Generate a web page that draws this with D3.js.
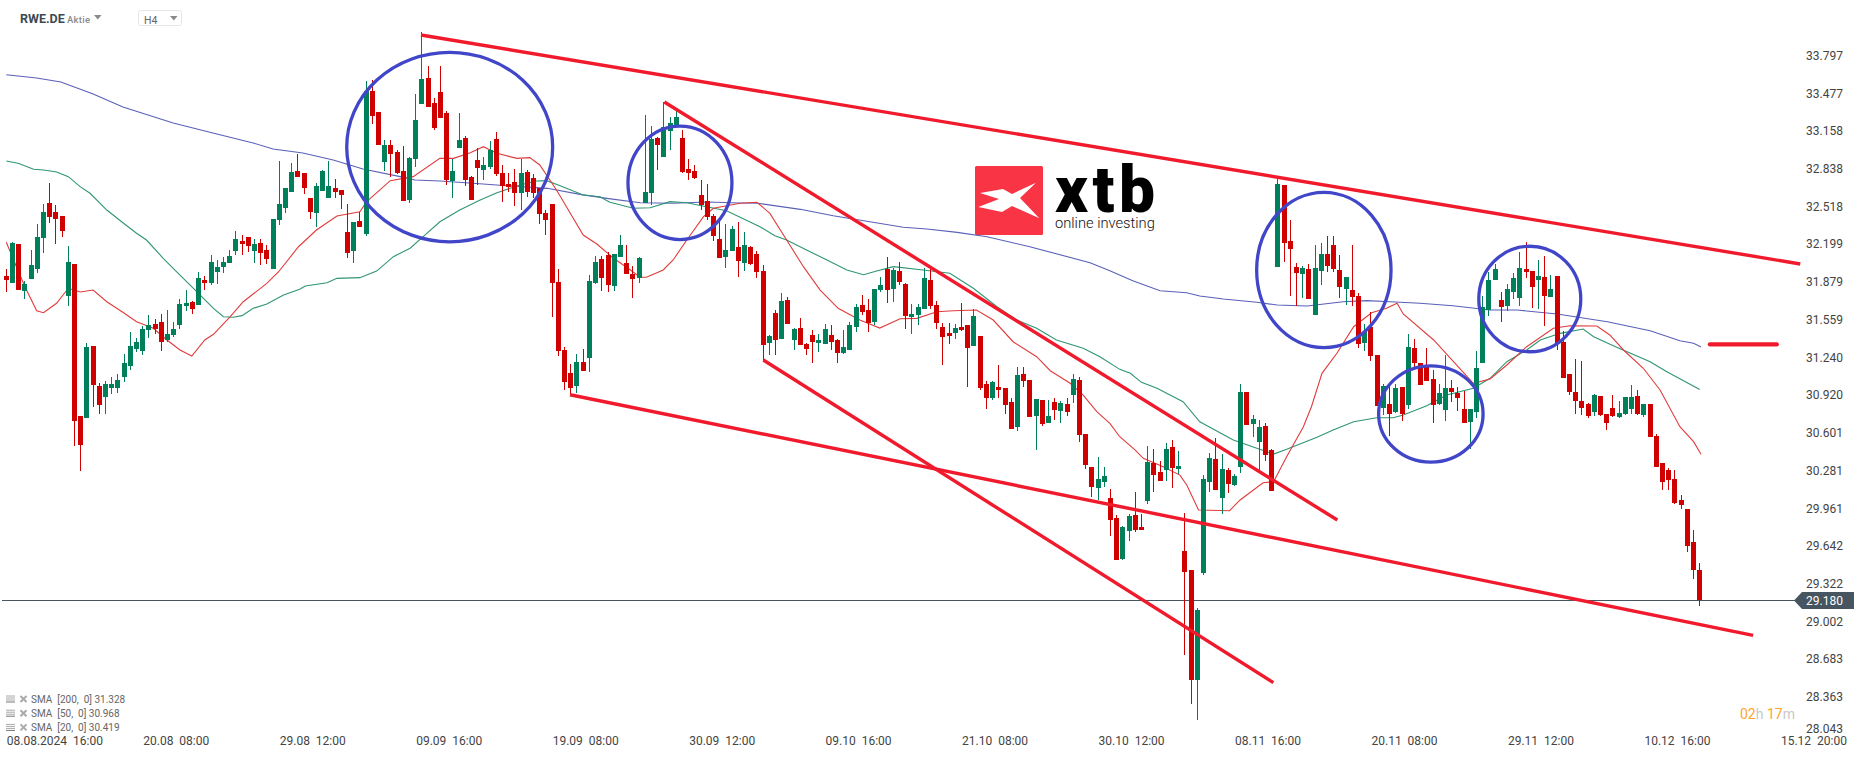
<!DOCTYPE html>
<html>
<head>
<meta charset="utf-8">
<title>RWE.DE H4</title>
<script src="https://cdn.jsdelivr.net/npm/d3@7"></script>
<style>
  html, body { margin: 0; padding: 0; background: #fff; overflow: hidden; }
  svg { display: block; font-family: Roboto, sans-serif; }
</style>
</head>
<body>
<svg id="chart" width="1866" height="759"></svg>
<script>
// candles, one row per 10 candles
const opens = [
  31.929,31.872,32.200,31.805,31.906,31.991,32.254,32.548,32.471,32.437,
  31.760,32.031,30.743,30.726,31.336,30.997,30.904,30.980,30.980,31.073,
  31.166,31.310,31.293,31.471,31.522,31.539,31.387,31.429,31.514,31.675,
  31.709,31.683,31.895,31.870,31.963,32.005,32.039,32.141,32.226,32.260,
  32.141,32.209,32.149,31.988,32.404,32.505,32.641,32.819,32.802,32.590,
  32.463,32.649,32.590,32.675,32.658,32.302,32.141,32.395,32.285,33.497,
  33.319,32.895,33.039,32.980,32.819,32.573,32.921,33.387,33.607,33.395,
  33.489,33.310,32.734,33.014,33.098,32.768,32.912,32.827,32.853,33.090,
  32.802,32.709,32.726,32.632,32.810,32.760,32.675,32.463,32.539,31.878,
  31.302,31.107,30.997,31.200,31.234,31.870,32.073,32.107,31.844,32.090,
  32.039,31.946,31.912,32.548,32.632,33.098,32.938,33.158,33.192,33.098,
  32.836,32.819,32.615,32.565,32.438,32.242,32.090,32.141,32.175,32.039,
  32.175,32.115,31.971,31.361,31.615,31.395,31.726,31.387,31.488,31.353,
  31.429,31.361,31.353,31.429,31.387,31.276,31.302,31.497,31.683,31.641,
  31.539,31.810,31.988,31.819,31.971,31.861,31.581,31.598,31.649,31.895,
  31.683,31.497,31.446,31.446,31.497,31.514,31.336,31.420,31.014,30.895,
  30.988,30.980,30.861,30.649,31.098,31.048,30.742,30.878,30.683,30.861,
  30.785,30.844,30.920,31.048,30.590,30.310,30.132,30.183,30.047,29.878,
  29.531,29.768,29.903,29.802,30.022,30.344,30.268,30.285,30.480,30.293,
  29.598,29.437,28.505,29.412,30.183,30.378,30.047,30.285,30.158,30.310,
  30.946,30.675,30.522,30.658,30.454,32.005,32.700,32.226,32.005,31.946,
  31.988,31.598,31.971,32.115,32.192,31.980,31.819,31.810,31.759,31.361,
  31.497,31.259,30.810,30.844,30.776,30.988,30.836,31.319,31.192,31.158,
  31.056,30.844,30.793,30.980,30.937,30.802,30.692,30.776,31.192,31.641,
  31.895,31.726,31.675,31.793,31.742,31.988,31.971,31.895,31.920,31.751,
  31.929,31.370,31.098,30.946,30.870,30.844,30.776,30.912,30.759,30.810,
  30.734,30.759,30.802,30.912,30.751,30.844,30.573,30.344,30.285,30.208,
  30.030,29.954,29.674,29.437
];
const highs = [
  31.988,32.217,32.200,31.887,32.149,32.370,32.539,32.717,32.531,32.437,
  32.183,32.031,30.743,31.361,31.336,31.019,31.039,31.073,31.099,31.268,
  31.454,31.404,31.505,31.599,31.565,31.607,31.641,31.539,31.734,31.810,
  31.717,31.963,31.929,32.107,32.065,32.090,32.149,32.310,32.276,32.260,
  32.243,32.243,32.192,32.412,32.904,32.675,32.887,32.963,32.802,32.590,
  32.717,32.827,32.904,32.751,32.658,32.539,32.387,32.471,33.582,33.590,
  33.319,33.082,33.082,32.997,33.031,32.938,33.472,33.997,33.709,33.438,
  33.709,33.327,32.921,33.310,33.115,32.776,33.014,32.938,33.073,33.149,
  32.870,32.802,32.836,32.921,32.827,32.794,32.675,32.489,32.539,31.989,
  31.327,31.183,31.268,31.310,31.938,32.098,32.098,32.132,32.115,32.277,
  32.192,32.014,32.090,33.293,33.200,33.107,33.404,33.277,33.327,33.166,
  32.921,32.870,32.743,32.709,32.455,32.412,32.370,32.353,32.387,32.300,
  32.183,32.141,32.022,31.429,31.641,31.785,31.751,31.488,31.573,31.361,
  31.471,31.437,31.522,31.514,31.395,31.471,31.539,31.692,31.768,31.734,
  31.819,31.920,32.090,31.997,32.048,31.870,31.692,31.692,31.997,31.997,
  31.717,31.531,31.531,31.522,31.700,31.514,31.649,31.420,31.039,31.039,
  31.175,30.980,30.895,31.158,31.158,31.048,30.887,30.878,30.878,30.895,
  30.870,30.895,31.098,31.073,30.590,30.310,30.395,30.310,30.124,29.903,
  29.810,29.912,30.098,29.912,30.488,30.463,30.361,30.514,30.539,30.446,
  29.920,29.437,29.115,30.242,30.429,30.556,30.420,30.302,30.251,31.014,
  30.946,30.751,30.709,30.683,30.463,32.751,32.700,32.404,32.039,32.014,
  32.031,32.192,32.209,32.268,32.268,32.107,31.920,32.192,31.785,31.522,
  31.624,31.259,31.014,31.014,31.014,30.988,31.437,31.395,31.192,31.319,
  31.132,31.014,31.259,31.048,30.988,30.954,30.802,31.293,31.759,31.963,
  32.031,31.793,31.861,31.954,32.132,32.217,31.971,32.065,32.098,31.937,
  31.929,31.463,31.098,31.226,31.209,30.853,30.929,30.912,30.759,30.920,
  30.870,30.904,31.005,30.963,30.844,30.844,30.590,30.344,30.301,30.285,
  30.073,29.954,29.776,29.496
];
const lows = [
  31.796,31.872,31.813,31.737,31.906,31.957,32.127,32.378,32.200,32.260,
  31.675,30.488,30.276,30.726,30.819,30.760,30.760,30.929,30.937,31.031,
  31.132,31.285,31.260,31.404,31.437,31.293,31.370,31.412,31.480,31.632,
  31.607,31.683,31.810,31.853,31.861,31.954,32.039,32.107,32.107,32.132,
  32.039,32.022,32.031,31.988,32.361,32.463,32.641,32.768,32.624,32.412,
  32.344,32.649,32.590,32.590,32.497,32.082,32.039,32.344,32.268,33.217,
  33.039,32.819,32.768,32.794,32.565,32.548,32.853,33.387,33.362,33.166,
  33.268,32.700,32.590,33.014,32.692,32.573,32.700,32.743,32.836,32.776,
  32.556,32.641,32.522,32.489,32.598,32.590,32.370,32.277,31.582,31.251,
  30.963,30.929,30.938,31.124,31.115,31.861,31.802,31.794,31.802,32.090,
  31.946,31.743,31.870,32.548,32.531,32.827,32.938,32.997,33.192,32.802,
  32.743,32.751,32.489,32.404,32.225,32.082,31.997,32.141,31.920,31.971,
  32.022,31.912,31.217,31.259,31.259,31.395,31.522,31.302,31.344,31.259,
  31.192,31.285,31.353,31.302,31.192,31.268,31.302,31.454,31.598,31.454,
  31.514,31.793,31.700,31.709,31.853,31.480,31.437,31.514,31.649,31.649,
  31.480,31.175,31.353,31.395,31.463,30.988,31.336,30.963,30.802,30.878,
  30.895,30.759,30.632,30.615,30.988,30.734,30.454,30.658,30.683,30.709,
  30.683,30.742,30.853,30.522,30.293,30.056,30.031,30.141,29.725,29.522,
  29.522,29.683,29.759,29.776,29.997,30.098,30.192,30.192,30.132,30.251,
  28.717,28.302,28.166,29.395,30.098,30.115,29.912,30.090,30.149,30.259,
  30.666,30.564,30.285,30.361,30.107,32.005,32.048,31.759,31.675,31.742,
  31.734,31.598,31.853,31.963,31.963,31.742,31.683,31.675,31.319,31.293,
  31.209,30.827,30.751,30.573,30.768,30.700,30.802,31.149,31.005,31.039,
  30.683,30.836,30.700,30.861,30.785,30.683,30.463,30.726,31.192,31.590,
  31.895,31.539,31.632,31.734,31.675,31.912,31.658,31.649,31.505,31.751,
  31.302,31.065,30.920,30.759,30.751,30.726,30.743,30.743,30.624,30.734,
  30.726,30.751,30.759,30.751,30.734,30.564,30.310,30.115,30.115,29.996,
  29.954,29.590,29.361,29.132
];
const closes = [
  31.895,32.209,31.813,31.861,32.022,32.260,32.471,32.429,32.412,32.310,
  32.048,30.700,30.497,31.327,31.005,30.836,31.014,31.014,31.048,31.192,
  31.336,31.370,31.480,31.514,31.480,31.370,31.437,31.480,31.692,31.700,
  31.649,31.912,31.870,32.048,32.005,32.048,32.099,32.243,32.200,32.183,
  32.200,32.124,32.073,32.412,32.539,32.675,32.810,32.768,32.675,32.471,
  32.692,32.819,32.692,32.641,32.615,32.124,32.387,32.344,33.497,33.285,
  33.039,33.039,32.963,32.802,32.565,32.929,33.251,33.599,33.362,33.183,
  33.268,32.743,32.819,33.082,32.743,32.573,32.844,32.870,32.997,32.794,
  32.692,32.683,32.632,32.802,32.641,32.632,32.455,32.404,31.870,31.294,
  31.031,30.980,31.200,31.124,31.887,32.048,31.912,31.853,32.115,32.192,
  31.946,31.904,32.082,32.641,33.090,33.039,33.192,33.226,33.277,32.810,
  32.802,32.760,32.531,32.429,32.268,32.082,32.149,32.327,32.056,32.192,
  32.031,31.963,31.344,31.420,31.387,31.717,31.522,31.480,31.344,31.310,
  31.370,31.387,31.480,31.370,31.276,31.327,31.514,31.666,31.624,31.531,
  31.819,31.853,31.810,31.980,31.878,31.590,31.607,31.666,31.912,31.675,
  31.531,31.412,31.420,31.488,31.471,31.319,31.590,30.980,30.895,31.031,
  30.963,30.836,30.632,31.090,31.039,30.734,30.887,30.675,30.742,30.793,
  30.853,30.776,31.056,30.581,30.327,30.141,30.209,30.234,29.861,29.522,
  29.802,29.895,29.776,29.776,30.353,30.242,30.192,30.463,30.302,30.319,
  29.420,28.505,29.098,30.209,30.386,30.115,30.293,30.166,30.234,30.946,
  30.666,30.717,30.649,30.412,30.107,32.709,32.209,32.158,31.954,31.997,
  31.734,31.997,32.115,32.014,31.988,31.836,31.920,31.751,31.353,31.454,
  31.251,30.827,30.997,30.759,30.980,30.759,31.327,31.192,31.005,31.039,
  30.836,30.937,30.980,30.946,30.895,30.683,30.802,31.149,31.666,31.895,
  31.988,31.666,31.819,31.912,31.997,31.963,31.836,31.929,31.759,31.819,
  31.361,31.065,30.946,30.870,30.810,30.743,30.920,30.751,30.683,30.743,
  30.768,30.904,30.904,30.759,30.844,30.564,30.310,30.183,30.200,30.005,
  29.988,29.640,29.437,29.180
];

// moving averages, sampled at the bends: candle position and price
const sma200At = [0,4.9,8.8,14,18.8,26.9,33.3,39.8,43,47.8,52.7,57.5,63.5,65.9,69.9,75.2,80.7,87.2,92.5,96.8,102.2,107.5,113,118.3,121.2,128,133.3,139.7,144.6,148.4,153.3,158.1,165,174.7,177.9,181.6,186,190.3,192.4,196.2,201.6,204.9,209.7,215.5,219.4,223.1,227.9,233.2,239.2,243.5,250,258.1,265,269.8,272,273.2];
const sma200 = [33.635,33.607,33.573,33.471,33.361,33.226,33.141,33.056,33.005,32.971,32.912,32.836,32.771,32.743,32.734,32.715,32.694,32.672,32.621,32.587,32.550,32.545,32.556,32.548,32.545,32.494,32.440,32.384,32.342,32.327,32.299,32.262,32.177,32.042,31.974,31.889,31.804,31.787,31.760,31.734,31.706,31.683,31.675,31.711,31.720,31.711,31.698,31.677,31.641,31.641,31.607,31.542,31.465,31.381,31.359,31.328];
const sma50At = [0,1.9,4.4,6,8.1,10,11.9,13.5,16.2,18.9,21,22.6,25.3,26.9,30.7,33.4,35,36.6,38,39.8,42,44.7,47.3,48.2,51.7,53.3,57,59.7,62.4,65.1,67.2,69.9,73.1,76.4,79.1,82.8,85.5,87.1,89.3,93,95.7,97.3,101.1,103.8,107,109.7,112.9,116.1,121.5,123.9,125.8,129,132.3,135.5,138.2,140.3,143,147.8,152.1,155.9,159.7,162.9,166.1,169.3,173.6,176.3,179.5,181.2,183,185.5,189.7,192.4,197.8,201.6,204.3,206.4,211.3,213.9,217.2,220.9,223.6,225.2,229,232.2,236.5,239.2,241.9,245.1,247.3,250.5,254.2,255.9,259.6,265,267.7,273];
const sma50 = [32.904,32.884,32.833,32.827,32.810,32.771,32.686,32.630,32.488,32.376,32.291,32.234,32.079,31.994,31.796,31.655,31.584,31.579,31.593,31.655,31.692,31.768,31.816,31.844,31.872,31.909,31.915,31.971,32.093,32.164,32.262,32.389,32.488,32.573,32.635,32.700,32.734,32.737,32.694,32.615,32.601,32.554,32.503,32.508,32.559,32.550,32.516,32.482,32.347,32.270,32.234,32.149,32.065,31.980,31.940,31.971,32.008,31.980,31.952,31.825,31.669,31.556,31.486,31.387,31.316,31.245,31.138,31.104,31.028,30.977,30.864,30.694,30.539,30.469,30.420,30.460,30.562,30.624,30.694,30.728,30.728,30.751,30.830,30.920,30.977,31.062,31.203,31.302,31.387,31.443,31.480,31.415,31.325,31.203,31.118,30.968];
const sma20At = [0,1.4,3,4.9,6,8.1,10,11.9,14,16.2,18.9,21,23.7,25.9,28,29.9,32,33.4,36.1,38.2,42,43.9,47.1,50,53.3,57,58.1,61.9,65.6,69.9,72.1,74.8,76.9,79.1,82.3,84.4,86,88.7,90.3,93,95.2,97.9,100,102.2,103.2,105.9,107.5,109.7,112.4,114,118.3,121,123.1,125.8,128.5,131.2,134.1,137.6,140.8,144.1,146.8,150,152.7,156.4,159.1,162.3,166.1,168.3,171.5,173.6,175.8,177.9,179.5,182,183.3,186.5,189.2,190.3,192.2,197.2,198.9,202.6,204.3,206.4,209.1,210.4,212.1,214.5,217.2,220.1,222.5,224.2,225.2,230.1,236.5,239.2,241.9,245.1,249.4,252.1,256.4,258.5,260.7,263.9,266.6,269.8,272,273.2];
const sma20 = [32.215,32.037,31.838,31.635,31.618,31.698,31.825,31.793,31.810,31.711,31.618,31.542,31.486,31.387,31.302,31.251,31.387,31.435,31.584,31.711,31.867,31.965,32.177,32.319,32.437,32.474,32.559,32.737,32.771,32.926,32.926,32.974,33.025,32.969,32.926,32.932,32.870,32.658,32.516,32.276,32.200,32.079,32.003,31.918,31.918,31.980,32.065,32.234,32.432,32.503,32.545,32.554,32.460,32.234,32.008,31.810,31.655,31.556,31.488,31.567,31.570,31.626,31.635,31.641,31.556,31.372,31.245,31.126,31.020,30.920,30.779,30.680,30.567,30.454,30.384,30.313,30.242,30.158,29.946,29.940,30.031,30.177,30.186,30.398,30.652,30.821,31.104,31.274,31.499,31.618,31.655,31.698,31.607,31.387,31.020,31.056,31.175,31.330,31.486,31.508,31.505,31.429,31.302,31.147,30.963,30.652,30.525,30.419];

// hand drawn analysis: [from candle, from price, to candle, to price]
const trendLines = [
  [66.85,33.971,289.2,32.031],
  [90.88,30.923,281.6,28.884],
  [106.08,33.404,214.58,29.861],
  [122.04,31.217,204.26,28.483]
];
const targetLevel = [274.65,285.41,31.350];
// [centre candle, centre price, half width in candles, half height in price]
const circles = [
  [71.48,33.022,16.6,0.803],
  [108.6,32.719,8.38,0.481],
  [212.4,31.980,10.83,0.658],
  [229.65,30.760,8.42,0.408],
  [245.6,31.734,8.22,0.447]
];

const lastPrice = 29.180;
const priceTicks = [33.797,33.477,33.158,32.838,32.518,32.199,31.879,31.559,31.240,30.920,30.601,30.281,29.961,29.642,29.322,29.002,28.683,28.363,28.043];
const timeTickAt = [0,22,44,66,88,110,132,154,176,198,220,242,264,286];
const timeLabels = ['08.08.2024','20.08','29.08','09.09','19.09','30.09','09.10','21.10','30.10','08.11','20.11','29.11','10.12','15.12'];
const timeHours = ['16:00','08:00','12:00','16:00','08:00','12:00','16:00','08:00','12:00','16:00','08:00','12:00','16:00','20:00'];
const legendNames = ['SMA\u00a0\u00a0[200,\u00a0\u00a00]','SMA\u00a0\u00a0[50,\u00a0\u00a00]','SMA\u00a0\u00a0[20,\u00a0\u00a00]'];
const legendValues = [31.328,30.968,30.419];

const svg = d3.select('#chart');
const x = d3.scaleLinear().domain([0,286]).range([6.3,1780.4]);
const y = d3.scaleLinear().domain([28.043,33.797]).range([734.55,55.58]);

const UP = '#00805a', DOWN = '#d00000', SLATE = '#46555f';

// last price line
svg.append('line')
  .attr('x1',2).attr('x2',1796)
  .attr('y1',Math.round(y(lastPrice))+0.5).attr('y2',Math.round(y(lastPrice))+0.5)
  .attr('stroke',SLATE).attr('stroke-width',1);

// logo
const logo = svg.append('g').attr('transform','translate(975,166)');
logo.append('rect').attr('width',68).attr('height',69).attr('rx',1.5).attr('fill','#f93444');
logo.append('polygon').attr('fill','#fff')
  .attr('points','5,27 28,23 37,28 61,16.7 45,32 64.3,52.3 37,40 27,46 3.3,41 24,33');
logo.append('text').attr('x',80).attr('y',46)
  .attr('font-family','Roboto').attr('font-weight',900).attr('font-size',64)
  .attr('letter-spacing',4.5).attr('fill','#000').text('xtb');
logo.append('text').attr('x',80).attr('y',61.5)
  .attr('font-family','Roboto').attr('font-weight',300).attr('font-size',14.7)
  .attr('fill','#111').text('online investing');

// moving averages
const smaLine = d3.line().x(d => x(d[0])).y(d => y(d[1]));
[[sma200At,sma200,'#5a60b8'],[sma50At,sma50,'#2f9672'],[sma20At,sma20,'#e03c3c']].forEach(([at,vals,col]) => {
  svg.append('path')
    .datum(at.map((a,i) => [a,vals[i]]))
    .attr('fill','none').attr('stroke',col).attr('stroke-width',1.1)
    .attr('d',smaLine);
});

// candles
const candles = svg.append('g').attr('shape-rendering','crispEdges');
opens.forEach((o,i) => {
  const c = closes[i];
  const col = c >= o ? UP : DOWN;
  const cx = Math.floor(x(i));
  const top = Math.round(y(Math.max(o,c)));
  const bottom = Math.round(y(Math.min(o,c)));
  candles.append('rect')
    .attr('x',cx).attr('width',1)
    .attr('y',Math.round(y(highs[i])))
    .attr('height',Math.max(1,Math.round(y(lows[i]))-Math.round(y(highs[i]))))
    .attr('fill',col);
  candles.append('rect')
    .attr('x',cx-2).attr('width',5)
    .attr('y',top).attr('height',Math.max(1,bottom-top))
    .attr('fill',col);
});

// analysis marks
svg.selectAll('.trend').data(trendLines).enter().append('line')
  .attr('class','trend')
  .attr('x1',d => x(d[0])).attr('y1',d => y(d[1]))
  .attr('x2',d => x(d[2])).attr('y2',d => y(d[3]))
  .attr('stroke','#f01a2c').attr('stroke-width',3.4);

svg.append('line')
  .attr('x1',x(targetLevel[0])).attr('x2',x(targetLevel[1]))
  .attr('y1',y(targetLevel[2])).attr('y2',y(targetLevel[2]))
  .attr('stroke','#f01a2c').attr('stroke-width',4.4).attr('stroke-linecap','round');

svg.selectAll('.ring').data(circles).enter().append('ellipse')
  .attr('class','ring')
  .attr('cx',d => x(d[0])).attr('cy',d => y(d[1]))
  .attr('rx',d => x(d[2]) - x(0))
  .attr('ry',d => y(0) - y(d[3]))
  .attr('fill','none').attr('stroke','#4146c9').attr('stroke-width',3.3);

// price axis
const priceAxis = svg.append('g')
  .attr('transform','translate(1806,0)')
  .call(d3.axisRight(y).tickValues(priceTicks).tickFormat(d3.format('.3f')).tickSize(0).tickPadding(0));
priceAxis.select('.domain').remove();
priceAxis.selectAll('text').attr('font-family','Roboto').attr('font-size',12).attr('fill','#444');
// the lowest label is pushed up to stay clear of the time axis
priceAxis.selectAll('.tick').filter(d => d === 28.043).attr('transform','translate(0,729)');

// last price tag
const tagY = y(lastPrice);
svg.append('path')
  .attr('d',`M1794,${tagY} L1802,${tagY-8.5} H1854 V${tagY+8.5} H1802 Z`)
  .attr('fill',SLATE);
svg.append('text').attr('x',1806).attr('y',tagY).attr('dy','.36em')
  .attr('font-size',12).attr('fill','#fff').text(d3.format('.3f')(lastPrice));

// time axis, labels start at their candle
const timeAxis = svg.append('g')
  .attr('transform','translate(0,736)')
  .call(d3.axisBottom(x).tickValues(timeTickAt)
    .tickFormat((d,i) => timeLabels[i] + '\u00a0\u00a0' + timeHours[i])
    .tickSize(0).tickPadding(0));
timeAxis.select('.domain').remove();
timeAxis.selectAll('text').attr('text-anchor','start').attr('font-family','Roboto').attr('font-size',12).attr('fill','#444');

// indicator legend
legendNames.forEach((name,i) => {
  const g = svg.append('g').attr('transform',`translate(0,${699.5 + i * 14.2})`);
  [-4,-2,0,2].forEach((dy,k) => {
    g.append('rect').attr('x',6).attr('y',dy).attr('width',9).attr('height',1)
      .attr('fill',k === 3 ? '#777' : '#aaa');
  });
  g.append('path').attr('d','M20.5,-3.5 L26.5,2.5 M26.5,-3.5 L20.5,2.5')
    .attr('stroke','#aaa').attr('stroke-width',2).attr('fill','none');
  g.append('text').attr('x',31).attr('y',0).attr('dy','.34em')
    .attr('font-size',10).attr('fill','#666')
    .text(name + ' ' + d3.format('.3f')(legendValues[i]));
});

// header
svg.append('text').attr('x',20).attr('y',23).attr('font-size',12.5).attr('font-weight',700)
  .attr('fill','#3d4a54').text('RWE.DE');
svg.append('text').attr('x',67).attr('y',23).attr('font-size',9.5).attr('font-weight',500)
  .attr('letter-spacing',0.3).attr('fill','#8a8a8a').text('Aktie');
svg.append('path').attr('d','M94,15 H101.5 L97.8,19.5 Z').attr('fill','#8a8a8a');
svg.append('rect').attr('x',138.5).attr('y',10.5).attr('width',43).attr('height',15).attr('rx',2)
  .attr('fill','#fff').attr('stroke','#e6e6e6');
svg.append('text').attr('x',144).attr('y',24).attr('font-size',10.5).attr('fill','#666').text('H4');
svg.append('path').attr('d','M170,16 H177.5 L173.8,20.5 Z').attr('fill','#8a8a8a');

// candle countdown
const countdown = svg.append('text').attr('x',1740).attr('y',719).attr('font-size',14);
[['02','#ffa52b'],['h ','#c8c8c8'],['17','#ffa52b'],['m','#c8c8c8']].forEach(([t,col]) => {
  countdown.append('tspan').attr('fill',col).text(t);
});
</script>
</body>
</html>
